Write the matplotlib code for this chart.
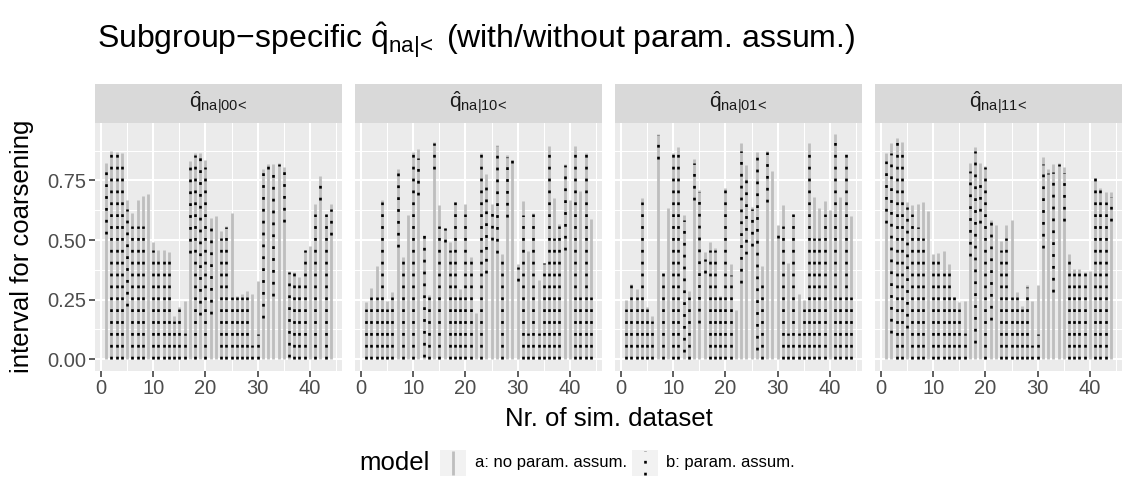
import numpy as np
import matplotlib
matplotlib.use('Agg')
import matplotlib.pyplot as plt

plt.rcParams['font.family'] = ['Liberation Sans', 'DejaVu Sans']
plt.rcParams['mathtext.fontset'] = 'custom'
plt.rcParams['mathtext.rm'] = 'Liberation Sans'
plt.rcParams['mathtext.it'] = 'Liberation Sans'
plt.rcParams['mathtext.bf'] = 'Liberation Sans:bold'
plt.rcParams['lines.scale_dashes'] = False

nan = np.nan
datasets = np.arange(1, 45)

facet_labels = [r'$\hat{q}_{na|00\!<}$', r'$\hat{q}_{na|10\!<}$',
                r'$\hat{q}_{na|01\!<}$', r'$\hat{q}_{na|11\!<}$']

# model a (no param. assum.): upper end of interval (lower end 0)
a_hi_00 = [0.825, 0.875, 0.87, 0.867, 0.67, 0.615, 0.67, 0.685, 0.695, 0.49,
           0.46, 0.46, 0.45, 0.18, 0.22, 0.245, 0.83, 0.867, 0.865, 0.836,
           0.592, 0.60, 0.537, 0.559, 0.615, 0.265, 0.273, 0.287, 0.273, 0.327,
           0.80, 0.818, 0.82, 0.825, 0.807, 0.37, 0.364, 0.343, 0.46, 0.475,
           0.65, 0.77, 0.61, 0.65]
a_hi_10 = [0.24, 0.30, 0.39, 0.67, 0.245, 0.28, 0.80, 0.43, 0.605, 0.87,
           0.88, 0.52, 0.27, 0.91, 0.645, 0.55, 0.49, 0.66, 0.295, 0.65,
           0.43, 0.195, 0.865, 0.775, 0.65, 0.90, 0.44, 0.857, 0.836, 0.40,
           0.664, 0.454, 0.612, 0.333, 0.405, 0.894, 0.677, 0.566, 0.818, 0.668,
           0.895, 0.707, 0.865, 0.59]
a_hi_01 = [0.25, 0.315, 0.295, 0.675, 0.22, 0.18, 0.945, 0.36, 0.635, 0.867,
           0.89, 0.605, 0.285, 0.84, 0.71, 0.45, 0.49, 0.465, 0.265, 0.72,
           0.40, 0.205, 0.905, 0.815, 0.64, 0.87, 0.39, 0.875, 0.79, 0.565,
           0.645, 0.405, 0.61, 0.275, 0.25, 0.905, 0.68, 0.635, 0.665, 0.625,
           0.945, 0.68, 0.86, 0.60]
a_hi_11 = [0.865, 0.905, 0.93, 0.91, 0.66, 0.645, 0.65, 0.66, 0.62, 0.44,
           0.445, 0.455, 0.40, 0.26, 0.24, 0.245, 0.825, 0.89, 0.825, 0.81,
           0.584, 0.563, 0.496, 0.563, 0.584, 0.281, 0.225, 0.31, 0.245, 0.31,
           0.85, 0.797, 0.818, 0.825, 0.807, 0.44, 0.38, 0.38, 0.365, 0.37,
           0.76, 0.72, 0.70, 0.70]

# model b (param. assum.): interval lower / upper end
b_lo_00 = [0.525, 0, 0, 0, 0.225, 0, 0, 0, nan, 0,
           0, 0, 0, 0, 0, 0, 0.445, 0, 0.185, 0,
           0.19, nan, 0, 0, 0, 0, 0, 0, 0, 0,
           0.175, 0.80, 0.265, 0.81, 0.575, 0.01, 0, 0, 0, nan,
           0, 0.67, 0, 0.52]
b_hi_00 = [0.80, 0.865, 0.865, 0.815, 0.63, 0.56, 0.56, 0.56, nan, 0.46,
           0.41, 0.41, 0.41, 0.16, 0.21, 0.11, 0.81, 0.855, 0.85, 0.805,
           0.56, nan, 0.51, 0.555, 0.26, 0.26, 0.26, 0.26, 0.06, 0.105,
           0.79, 0.81, 0.81, 0.82, 0.79, 0.365, 0.36, 0.31, 0.46, nan,
           0.61, 0.765, 0.61, 0.63]
b_lo_10 = [0, 0, 0, 0, 0, 0, 0.47, 0, nan, 0,
           0.69, 0.01, 0, 0.80, 0, 0.49, 0, 0, 0, 0,
           0, nan, 0, 0.36, 0.50, 0.445, 0, 0.595, 0.825, 0.33,
           0, 0, 0, 0, 0, 0, 0, 0, 0.46, nan,
           0, 0, 0, 0]
b_hi_10 = [0.21, 0.26, 0.26, 0.66, 0.21, 0.26, 0.78, 0.41, nan, 0.865,
           0.845, 0.52, 0.26, 0.905, 0.56, 0.55, 0.46, 0.66, 0.26, 0.61,
           0.41, nan, 0.86, 0.76, 0.645, 0.895, 0.41, 0.85, 0.835, 0.385,
           0.605, 0.11, 0.61, 0.11, 0.405, 0.86, 0.51, 0.56, 0.815, nan,
           0.86, 0.26, 0.86, 0.26]
b_lo_01 = [0, 0, 0, 0, 0, 0, 0.84, 0, nan, 0,
           0, 0.03, 0, 0.67, 0.15, 0.36, 0, 0, 0, 0,
           0, nan, 0.32, 0.44, 0.475, 0.04, 0, 0.66, nan, 0.51,
           0, 0, 0, 0, 0, 0, 0, 0, 0, nan,
           0, 0, 0, 0]
b_hi_01 = [0.21, 0.31, 0.26, 0.66, 0.21, 0.16, 0.94, 0.36, nan, 0.865,
           0.86, 0.585, 0.26, 0.825, 0.70, 0.42, 0.46, 0.46, 0.26, 0.71,
           0.355, nan, 0.875, 0.79, 0.63, 0.85, 0.35, 0.87, nan, 0.52,
           0.56, 0.11, 0.61, 0.11, 0.21, 0.86, 0.51, 0.51, 0.61, nan,
           0.91, 0.26, 0.86, 0.26]
b_lo_11 = [0.57, 0.11, 0, 0, 0.13, 0, 0, 0, nan, 0,
           0, 0, 0, 0, 0, 0, 0.435, 0.07, 0.57, 0,
           0.165, nan, 0, 0, 0, 0, 0, 0, 0, 0,
           0.465, 0.775, 0.28, 0.81, 0.58, 0, 0, 0, 0, nan,
           0, 0, 0, 0.58]
b_hi_11 = [0.83, 0.865, 0.91, 0.86, 0.64, 0.61, 0.555, 0.51, nan, 0.41,
           0.41, 0.36, 0.36, 0.26, 0.21, 0.11, 0.79, 0.875, 0.77, 0.805,
           0.575, nan, 0.46, 0.51, 0.26, 0.26, 0.21, 0.305, 0.06, 0.105,
           0.82, 0.78, 0.785, 0.82, 0.78, 0.41, 0.36, 0.36, 0.36, nan,
           0.76, 0.71, 0.66, 0.68]

a_hi = [a_hi_00, a_hi_10, a_hi_01, a_hi_11]
b_lo = [b_lo_00, b_lo_10, b_lo_01, b_lo_11]
b_hi = [b_hi_00, b_hi_10, b_hi_01, b_hi_11]

x_ticks = [0, 10, 20, 30, 40]
y_ticks = [0.0, 0.25, 0.50, 0.75]
y_tick_labels = ['0.00', '0.25', '0.50', '0.75']

title = 'Subgroup\u2212specific $\\hat{q}_{na|\\!<}$ (with/without param. assum.)'
x_title = 'Nr. of sim. dataset'
y_title = 'interval for coarsening'
legend_title = 'model'
legend_labels = ['a: no param. assum.', 'b: param. assum.']

GRAY = '#BEBEBE'
DOTS = (0, (2.0, 6.55))

W, H = 1125, 479
fig = plt.figure(figsize=(W / 100, H / 100), dpi=100)

def fx(px):
    return px / W

def fy(py):
    return 1 - py / H

# scales shared across facets (ggplot fixed scales, 5% expansion)
allv = np.concatenate([np.array(v, float) for v in a_hi + b_hi])
ymax = np.nanmax(allv)
ymin = 0.0
yr = ymax - ymin
ylim = (ymin - 0.05 * yr, ymax + 0.05 * yr)
xr = datasets.max() - datasets.min()
xlim = (datasets.min() - 0.05 * xr, datasets.max() + 0.05 * xr)

panel_w = 247
panel_top, panel_bot = 122.7, 370.5
strip_top = 84
for i in range(4):
    L = 95 + i * 260
    ax = fig.add_axes([fx(L), fy(panel_bot), fx(panel_w), (panel_bot - panel_top) / H])
    ax.set_facecolor('#EBEBEB')
    for s in ax.spines.values():
        s.set_visible(False)
    ax.set_xlim(*xlim)
    ax.set_ylim(*ylim)
    ax.set_xticks(x_ticks)
    ax.set_xticks([5, 15, 25, 35, 45], minor=True)
    ax.set_yticks(y_ticks)
    ax.set_yticks([0.125, 0.375, 0.625, 0.875], minor=True)
    ax.grid(which='major', color='white', lw=1.5)
    ax.grid(which='minor', color='white', lw=0.75)
    ax.set_axisbelow(True)
    ax.tick_params(which='minor', length=0)
    ax.tick_params(which='major', length=4.2, width=1.1, color='#333333',
                   labelcolor='#4D4D4D', labelsize=14.5, pad=2)
    if i == 0:
        ax.set_yticklabels(y_tick_labels)
    else:
        ax.tick_params(axis='y', which='both', left=False, labelleft=False)

    ah = np.array(a_hi[i], float)
    ax.vlines(datasets, 0, ah, color=GRAY, lw=2.0, zorder=2)
    bl = np.array(b_lo[i], float)
    bh = np.array(b_hi[i], float)
    m = ~np.isnan(bl)
    ax.vlines(datasets[m], bl[m], bh[m], color='black', lw=1.9,
              linestyles=[DOTS], zorder=3)

    sax = fig.add_axes([fx(L), fy(panel_top), fx(panel_w), (panel_top - strip_top) / H])
    sax.set_facecolor('#D9D9D9')
    for s in sax.spines.values():
        s.set_visible(False)
    sax.set_xticks([])
    sax.set_yticks([])
    sax.text(0.5, 0.5, facet_labels[i], ha='center', va='center',
             fontsize=15, color='#1A1A1A', transform=sax.transAxes)

fig.text(fx(97), fy(48), title, fontsize=23, ha='left', va='baseline')
fig.text(fx((95 + 95 + 780 + panel_w) / 2), fy(426), x_title, fontsize=18.5,
         ha='center', va='baseline')
fig.text(fx(22), fy((panel_top + panel_bot) / 2), y_title, fontsize=18.5,
         rotation=90, ha='center', va='center')

# legend (bottom, horizontal)
ly = 463
fig.text(fx(359), fy(ly), legend_title, fontsize=18.5, ha='left', va='center')
key_w, key_h = 26, 26
for kx, tx, lab, kind in [(440, 475, legend_labels[0], 'a'),
                          (632, 666, legend_labels[1], 'b')]:
    kax = fig.add_axes([fx(kx), fy(ly + key_h / 2), fx(key_w), key_h / H])
    kax.set_facecolor('#F2F2F2')
    for s in kax.spines.values():
        s.set_visible(False)
    kax.set_xticks([])
    kax.set_yticks([])
    kax.set_xlim(0, 1)
    kax.set_ylim(0, 1)
    if kind == 'a':
        kax.vlines([0.5], 0.05, 0.95, color=GRAY, lw=2.0)
    else:
        kax.vlines([0.5], 0.05, 0.95, color='black', lw=1.9, linestyles=[DOTS])
    fig.text(fx(tx), fy(ly), lab, fontsize=12, ha='left', va='center')

fig.savefig('out.png', dpi=100)
